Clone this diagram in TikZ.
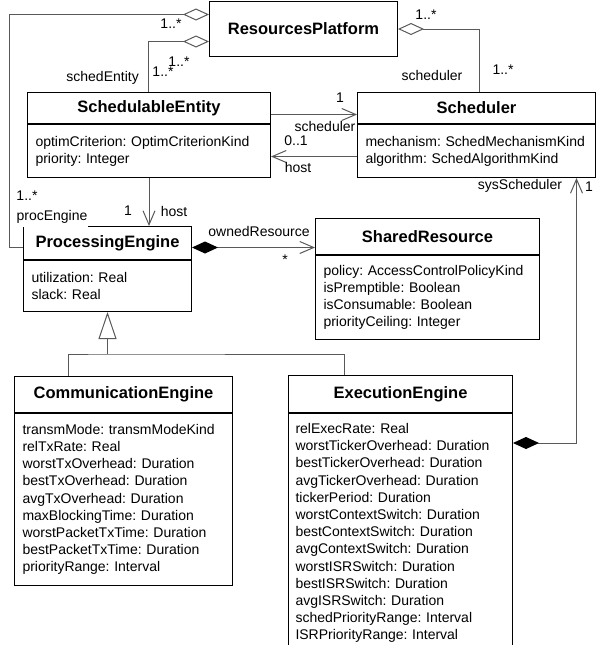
\documentclass[tikz,border=0pt]{standalone}
\usepackage{fontspec}
\setmainfont{Liberation Sans}
\usepackage{tikz}
\usetikzlibrary{arrows.meta,positioning,calc}
\frenchspacing
\hyphenpenalty=10000

\begin{document}
\begin{tikzpicture}[x=1pt, y=-1pt,
    cname/.style={draw, line width=1pt, anchor=north west, inner sep=0pt, font=\fontsize{16.5}{19}\selectfont\bfseries},
    cattr/.style={draw, line width=1pt, anchor=north west, inner xsep=8pt, inner ysep=0pt, align=left, font=\fontsize{14}{17.2}\selectfont},
    lbl/.style={inner sep=1pt, font=\fontsize{14}{17.2}\selectfont},
    conn/.style={draw=black!65, line width=1pt},
    agg/.style={conn, {Diamond[open, length=26pt, width=12pt]}-},
    comp/.style={conn, {Diamond[black, length=26pt, width=12pt]}-{Straight Barb[length=14pt, width=12pt]}},
    assoc/.style={conn, -{Straight Barb[length=14pt, width=12pt]}},
    gen/.style={conn, -{Triangle[open, length=27pt, width=18pt]}}
]
\useasboundingbox (0,0) rectangle (596,645);
\clip (0,0) rectangle (596,645);

% Platform
\node[cname, minimum width=188pt, minimum height=55pt] (rp) at (209,1) {ResourcesPlatform};

% Schedulable entity and scheduler
\node[cname, minimum width=243pt, minimum height=31pt] (se) at (27,92) {SchedulableEntity};
\node[cattr, text width=227pt, minimum height=53pt] (sea) at (se.south west) {
    optimCriterion: OptimCriterionKind\\
    priority: Integer
};

\node[cname, minimum width=238pt, minimum height=31pt] (sch) at (357,92) {Scheduler};
\node[cattr, text width=222pt, minimum height=53pt] (scha) at (sch.south west) {
    mechanism: SchedMechanismKind\\
    algorithm: SchedAlgorithmKind
};

% Processing engine and shared resource
\node[cname, minimum width=168pt, minimum height=33pt] (pe) at (23,226) {ProcessingEngine};
\node[cattr, text width=152pt, minimum height=51pt] (pea) at (pe.south west) {
    utilization: Real\\
    slack: Real
};

\node[cname, minimum width=224pt, minimum height=36pt] (sr) at (315,218) {SharedResource};
\node[cattr, text width=208pt, minimum height=84pt] (sra) at (sr.south west) {
    policy: AccessControlPolicyKind\\
    isPremptible: Boolean\\
    isConsumable: Boolean\\
    priorityCeiling: Integer
};

% Engines
\node[cname, minimum width=218pt, minimum height=36pt] (ce) at (14,376) {CommunicationEngine};
\node[cattr, text width=202pt, minimum height=172pt] (cea) at (ce.south west) {
    transmMode: transmModeKind\\
    relTxRate: Real\\
    worstTxOverhead: Duration\\
    bestTxOverhead: Duration\\
    avgTxOverhead: Duration\\
    maxBlockingTime: Duration\\
    worstPacketTxTime: Duration\\
    bestPacketTxTime: Duration\\
    priorityRange: Interval
};

\node[cname, minimum width=224pt, minimum height=37pt] (ee) at (288,375) {ExecutionEngine};
\node[cattr, inner xsep=7pt, text width=210pt, minimum height=239pt] (eea) at (ee.south west) {
    relExecRate: Real\\
    worstTickerOverhead: Duration\\
    bestTickerOverhead: Duration\\
    avgTickerOverhead: Duration\\
    tickerPeriod: Duration\\
    worstContextSwitch: Duration\\
    bestContextSwitch: Duration\\
    avgContextSwitch: Duration\\
    worstISRSwitch: Duration\\
    bestISRSwitch: Duration\\
    avgISRSwitch: Duration\\
    schedPriorityRange: Interval\\
    ISRPriorityRange: Interval
};

% Aggregations from the platform
\draw[agg] ([yshift=14.5pt]rp.west) -| ([xshift=-14pt,yshift=-4.5pt]pe.west) -- ([yshift=-4.5pt]pe.west);
\draw[agg] ([yshift=-12.5pt]rp.west) -| ([xshift=-0.5pt]se.north);
\draw[agg] (rp.east) -| ([xshift=2.5pt]sch.north);

% Scheduler associations
\draw[assoc] ([yshift=-6.5pt]se.east) -- ([yshift=-6.5pt]sch.west);
\draw[assoc] ([yshift=-5.5pt]scha.west) -- ([yshift=-5.5pt]sea.east);
\draw[assoc] (sea.south) -- (sea.south |- pe.north);

% Owned resources
\draw[comp] ([yshift=-4.5pt]pe.east) -- ([yshift=-11pt]sr.west);

% Generalization
\coordinate (fork) at ([yshift=-42pt]pea.south);
\draw[gen] (fork) -- (pea.south);
\draw[conn] ([xshift=-55pt]ce.north) |- (fork) -| ([xshift=-56pt]ee.north);

% System scheduler
\draw[comp] ([yshift=-30pt]eea.north east) -| ([xshift=100pt]scha.south);

% Role names and multiplicities
\node[lbl] at (171,24) {1..*};
\node[lbl] at (179,62) {1..*};
\node[lbl] at (163,72) {1..*};
\node[lbl, anchor=east] at (140,78) {schedEntity};
\node[lbl] at (426,15) {1..*};
\node[lbl] at (432,75) {scheduler};
\node[lbl] at (503,70) {1..*};
\node[lbl] at (340,98) {1};
\node[lbl] at (325,126) {scheduler};
\node[lbl] at (296,141) {0..1};
\node[lbl] at (298,167) {host};
\node[lbl] at (128,211) {1};
\node[lbl] at (174,211) {host};
\node[lbl] at (27,196) {1..*};
\node[lbl, fill=white, inner ysep=3pt] at (52,217) {procEngine};
\node[lbl] at (259,231) {ownedResource};
\node[lbl] at (285,260) {*};
\node[lbl] at (520,186) {sysScheduler};
\node[lbl] at (589,187) {1};

\end{tikzpicture}
\end{document}
